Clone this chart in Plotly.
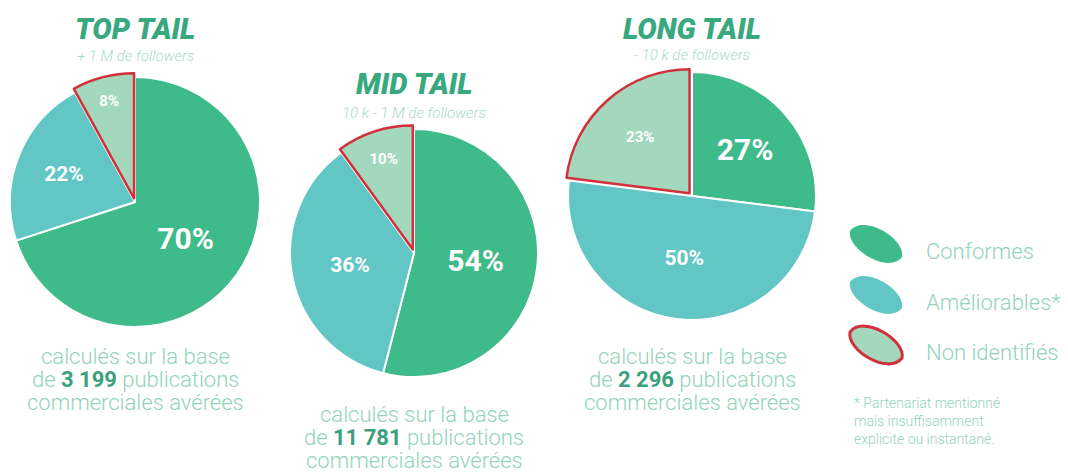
import plotly.graph_objects as go

W, H = 1068, 473

categories = ["Conformes", "Améliorables*", "Non identifiés"]
top_tail = [70, 22, 8]
mid_tail = [54, 36, 10]
long_tail = [27, 50, 23]
groups = ["TOP TAIL", "MID TAIL", "LONG TAIL"]
subtitles = ["+ 1 M de followers", "10 k - 1 M de followers", "- 10 k de followers"]
bases = ["3 199", "11 781", "2 296"]
footnote = ["* Partenariat mentionné", "mais insuffisamment", "explicite ou instantané."]

colors = ["#3fba8b", "#62c6c5", "#a3d8bd"]
red = "#d3303b"
green_txt = "#38a87f"
light_txt = "#92d3bb"
bold_txt = "#3c9f7d"

# layout geometry (pixels)
pies = [
    dict(vals=top_tail, cx=135, cy=202, r=125),
    dict(vals=mid_tail, cx=414, cy=253, r=124),
    dict(vals=long_tail, cx=692, cy=196, r=124),
]
pull = 0.03


def px(x):
    return x / W


def py(y):
    return 1 - y / H


fig = go.Figure()
for p in pies:
    R = p["r"] * (1 + pull)
    fig.add_trace(go.Pie(
        labels=categories,
        values=p["vals"],
        sort=False,
        direction="clockwise",
        rotation=0,
        pull=[0, 0, pull],
        marker=dict(colors=colors, line=dict(color=["white", "white", red], width=[2, 2, 2.5])),
        texttemplate="%{value}%",
        textposition="inside",
        insidetextorientation="horizontal",
        textfont=dict(family="Roboto", color="white", size=[30, 21, 15], weight=700),
        showlegend=False,
        hoverinfo="label+value",
        domain=dict(x=[px(p["cx"] - R), px(p["cx"] + R)], y=[py(p["cy"] + R), py(p["cy"] - R)]),
    ))

annotations = []
title_pos = [(135, 29, 56), (414, 84, 113), (692, 29, 55)]
for g, s, (x, yt, ys) in zip(groups, subtitles, title_pos):
    annotations.append(dict(x=px(x), y=py(yt), text=g, showarrow=False, xref="paper", yref="paper",
                            xanchor="center", yanchor="middle",
                            font=dict(family="Roboto", size=29, color=green_txt, weight=900, style="italic")))
    annotations.append(dict(x=px(x), y=py(ys), text=s, showarrow=False, xref="paper", yref="paper",
                            xanchor="center", yanchor="middle",
                            font=dict(family="Roboto", size=15, color="#a9d9ca", weight=300, style="italic")))

base_pos = [(135, 356), (414, 414), (692, 356)]
for b, (x, y) in zip(bases, base_pos):
    lines = ["calculés sur la base",
             f"de <b><span style='color:{bold_txt}'>{b}</span></b> publications",
             "commerciales avérées"]
    for i, ln in enumerate(lines):
        annotations.append(dict(x=px(x), y=py(y + i * 23), text=ln, showarrow=False, xref="paper", yref="paper",
                                xanchor="center", yanchor="middle",
                                font=dict(family="Roboto", size=22, color=light_txt, weight=300)))


def leaf(y):
    # tilted oval leaf from upper-left (A) to lower-right (B)
    ax, ay = 850, y - 13
    bx, by = 902, y + 13
    dx, dy = bx - ax, by - ay
    L = (dx * dx + dy * dy) ** 0.5
    ux, uy = dy / L, -dx / L  # perpendicular pointing up-right
    k = 22
    p1 = (ax + 0.08 * dx + k * ux, ay + 0.08 * dy + k * uy)
    p2 = (ax + 0.92 * dx + k * 0.8 * ux, ay + 0.92 * dy + k * 0.8 * uy)
    q1 = (ax + 0.92 * dx - k * ux, ay + 0.92 * dy - k * uy)
    q2 = (ax + 0.08 * dx - k * 0.8 * ux, ay + 0.08 * dy - k * 0.8 * uy)
    return (f"M {px(ax)},{py(ay)} "
            f"C {px(p1[0])},{py(p1[1])} {px(p2[0])},{py(p2[1])} {px(bx)},{py(by)} "
            f"C {px(q1[0])},{py(q1[1])} {px(q2[0])},{py(q2[1])} {px(ax)},{py(ay)} Z")


# legend (leaf icons + labels)
shapes = []
leg_y = [244, 295, 345]
for i, (cat, y) in enumerate(zip(categories, leg_y)):
    shapes.append(dict(type="path", path=leaf(y), xref="paper", yref="paper",
                       fillcolor=colors[i],
                       line=dict(color=red if i == 2 else colors[i], width=3 if i == 2 else 0)))
    annotations.append(dict(x=px(924), y=py(y + 7), text=cat, showarrow=False, xref="paper", yref="paper",
                            xanchor="left", yanchor="middle",
                            font=dict(family="Roboto", size=22, color=light_txt, weight=300)))

annotations.append(dict(x=px(852), y=py(421), text="<br>".join(footnote), showarrow=False,
                        xref="paper", yref="paper", xanchor="left", yanchor="middle", align="left",
                        font=dict(family="Roboto", size=14, color=light_txt, weight=300)))

fig.update_layout(
    width=W, height=H,
    margin=dict(l=0, r=0, t=0, b=0),
    paper_bgcolor="white",
    plot_bgcolor="white",
    annotations=annotations,
    shapes=shapes,
    showlegend=False,
)

fig.write_html("out.html")
